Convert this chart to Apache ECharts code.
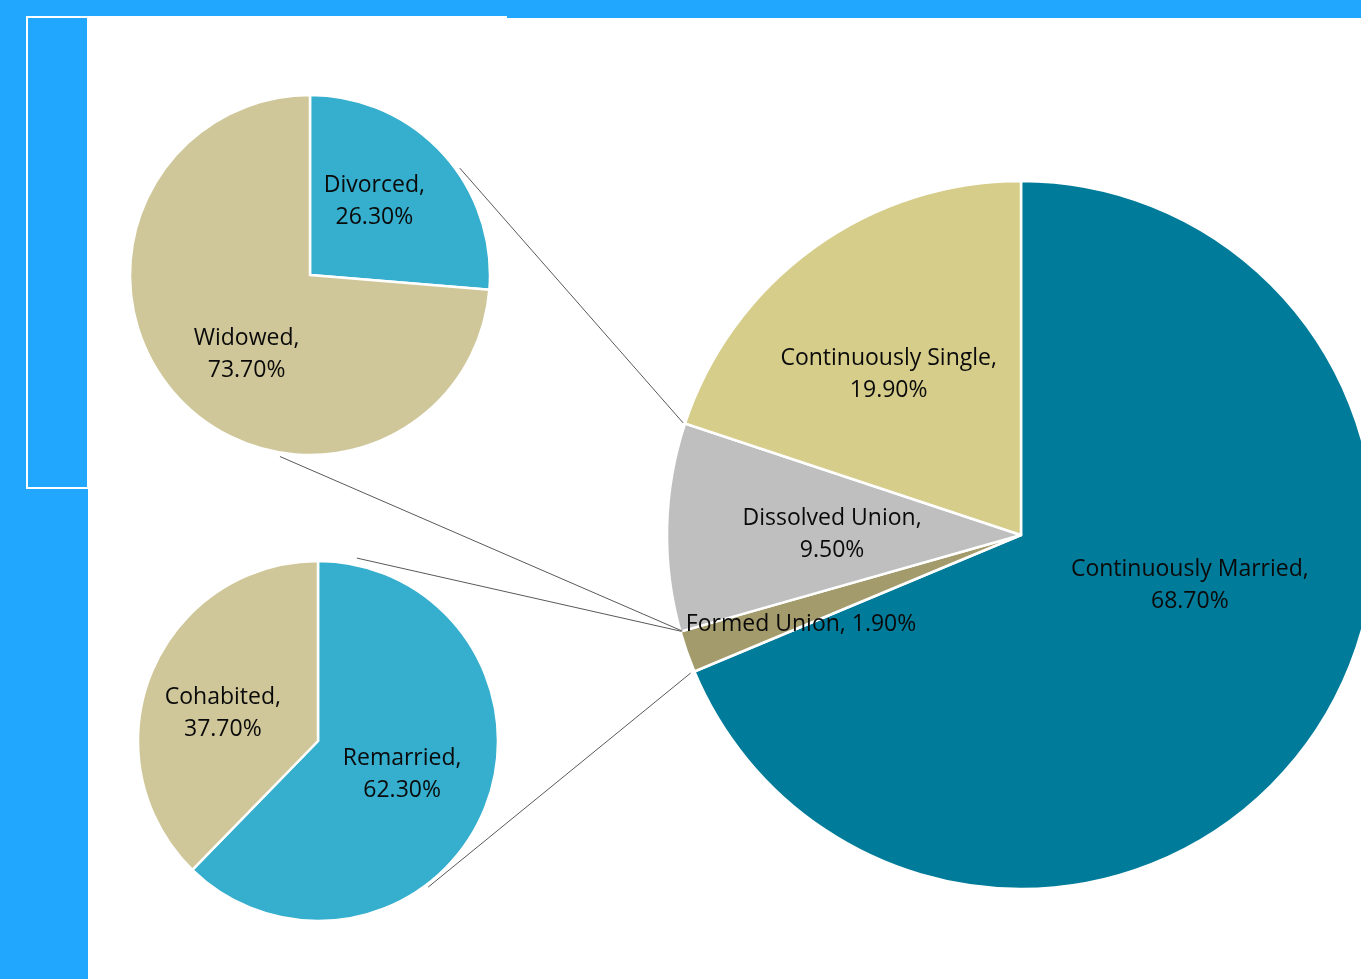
<!DOCTYPE html>
<html lang="en">
  <head>
    <meta charset="UTF-8" />
    <title>Marital history</title>
    <script src="https://cdn.jsdelivr.net/npm/echarts@6/dist/echarts.min.js"></script>
    <style>
      body { margin: 0; background: #21a8fe; }
    </style>
  </head>
  <body>
    <div id="main" style="width: 1361px; height: 979px"></div>
    <script type="text/javascript">
      // main pie
      const mainNames = ["Continuously Married", "Formed Union", "Dissolved Union", "Continuously Single"];
      const mainValues = [68.7, 1.9, 9.5, 19.9];
      // breakdown of dissolved union
      const dissolvedNames = ["Divorced", "Widowed"];
      const dissolvedValues = [26.3, 73.7];
      // breakdown of formed union
      const formedNames = ["Remarried", "Cohabited"];
      const formedValues = [62.3, 37.7];

      const mainColors = ["#007b99", "#a39b6b", "#bfbfbf", "#d6cd8b"];
      const subColors = ["#36aecd", "#cfc799"];
      // label nudges, roughly where Excel put them
      const mainNudge = [[19, -49], [-50, 30], [-9, 3], [-27, -15]];
      const dissolvedNudge = [[-4, -11], [5, 16]];
      const formedNudge = [[-2, -2], [-9, 8]];

      const MAIN = { c: [1021, 535], r: 354 };
      const TOP = { c: [310, 275], r: 180 };
      const BOT = { c: [318, 741], r: 180 };

      function items(names, values, colors, nudge) {
        return names.map((n, i) => ({
          name: n,
          value: values[i],
          itemStyle: { color: colors[i] },
          label: { offset: nudge[i] },
        }));
      }

      function pie(geom, data) {
        return {
          type: "pie",
          center: geom.c,
          radius: geom.r,
          startAngle: 90,
          clockwise: true,
          animation: false,
          silent: true,
          itemStyle: { borderColor: "#ffffff", borderWidth: 2.5 },
          label: {
            position: "inside",
            color: "#0a0a0a",
            fontFamily: "Open Sans",
            fontSize: 23,
            lineHeight: 32,
            formatter: (p) =>
              p.name + (p.value < 5 ? ", " : ",\n") + p.value.toFixed(2) + "%",
          },
          labelLine: { show: false },
          data: data,
        };
      }

      // point on a circle, angle in degrees measured clockwise from 12 o'clock
      function onCircle(geom, deg, extra) {
        const a = (deg * Math.PI) / 180;
        const r = geom.r + (extra || 0);
        return [geom.c[0] + r * Math.sin(a), geom.c[1] - r * Math.cos(a)];
      }

      // slice boundaries of the main pie, from the data
      const total = mainValues.reduce((a, b) => a + b, 0);
      let acc = 0;
      const bounds = mainValues.map((v) => {
        acc += v;
        return (acc / total) * 360;
      });
      // formed union sits between bounds[0] and bounds[1], dissolved between bounds[1] and bounds[2]
      const connectors = [
        [onCircle(TOP, 54.5, 4), onCircle(MAIN, bounds[2], 2)],
        [onCircle(TOP, 189.4, 4), onCircle(MAIN, bounds[1], -2)],
        [onCircle(BOT, 12, 7), onCircle(MAIN, bounds[1], -1)],
        [onCircle(BOT, 143, 3), onCircle(MAIN, bounds[0], 4)],
      ];

      const graphic = [
        { type: "rect", shape: { x: 88, y: 18, width: 1273, height: 961 }, style: { fill: "#ffffff" }, z: -10 },
        { type: "line", shape: { x1: 26, y1: 17, x2: 507, y2: 17 }, style: { stroke: "#ffffff", lineWidth: 2 }, z: -9 },
        {
          type: "rect",
          shape: { x: 27, y: 17, width: 61, height: 471 },
          style: { fill: "#21a8fe", stroke: "#ffffff", lineWidth: 2 },
          z: -8,
        },
      ];
      connectors.forEach((seg) => {
        graphic.push({
          type: "line",
          shape: { x1: seg[0][0], y1: seg[0][1], x2: seg[1][0], y2: seg[1][1] },
          style: { stroke: "#595959", lineWidth: 1 },
          z: 10,
        });
      });

      let myChart = echarts.init(document.getElementById("main"));
      myChart.setOption({
        backgroundColor: "#21a8fe",
        animation: false,
        graphic: graphic,
        series: [
          pie(MAIN, items(mainNames, mainValues, mainColors, mainNudge)),
          pie(TOP, items(dissolvedNames, dissolvedValues, subColors, dissolvedNudge)),
          pie(BOT, items(formedNames, formedValues, subColors, formedNudge)),
        ],
      });
    </script>
  </body>
</html>
